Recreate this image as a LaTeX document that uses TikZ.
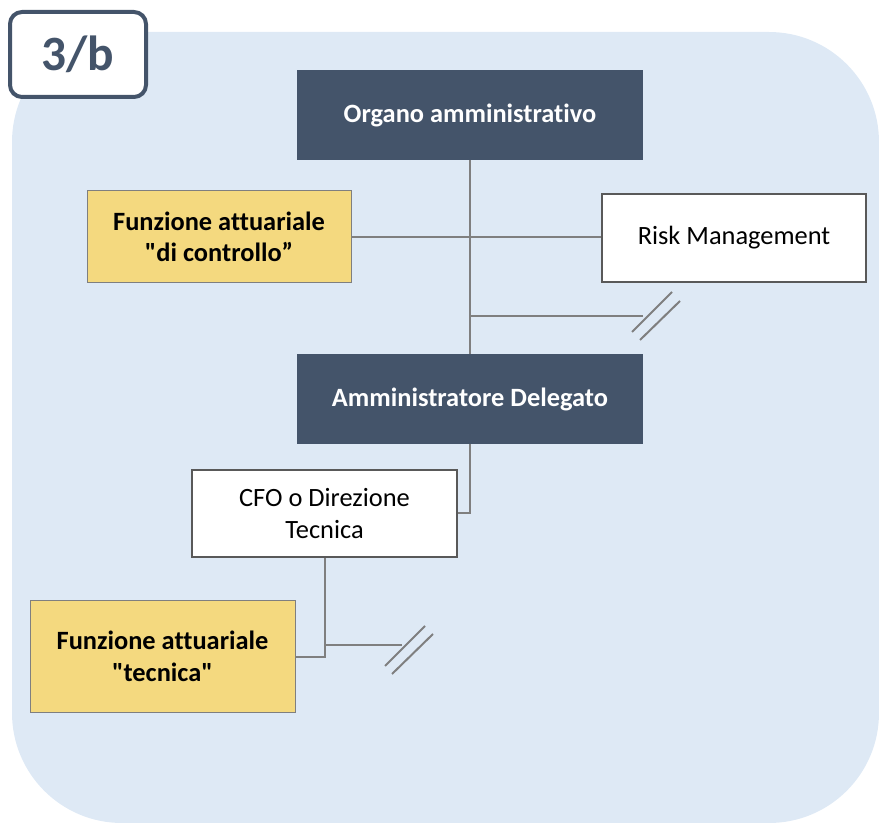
\documentclass[tikz,border=0pt]{standalone}
\usepackage{fontspec}
\setmainfont{Carlito}[Ligatures=CommonOff]
\newfontfamily\boxfont{Carlito}[Ligatures=CommonOff]
\definecolor{bgblue}{HTML}{DEE9F5}
\definecolor{slate}{HTML}{44546A}
\definecolor{gold}{HTML}{F4D97F}
\definecolor{linegray}{HTML}{7F7F7F}
\definecolor{boxgray}{HTML}{595959}
\tikzset{
  boxtext/.style={font=\boxfont\fontsize{19.8}{24}\selectfont, align=center, inner sep=0pt},
  darkbox/.style={boxtext, fill=slate, text=white, font=\boxfont\bfseries\fontsize{19.8}{24}\selectfont,
    minimum width=259.5pt, minimum height=67.5pt},
  goldbox/.style={boxtext, fill=gold, draw=linegray, line width=0.75pt, font=\boxfont\bfseries\fontsize{19.8}{23.5}\selectfont},
  whitebox/.style={boxtext, fill=white, draw=boxgray, line width=1pt},
  link/.style={draw=linegray, line width=1.5pt},
}
\begin{document}
\begin{tikzpicture}[x=0.75pt,y=0.75pt,yscale=-1,xscale=1]
\useasboundingbox (0,0) rectangle (879,823);

%Shape: Rounded Rect [id:background]
\fill[bgblue, rounded corners=82.5pt] (12,32) rectangle (879,823);

% Text Node
\node[draw=slate, line width=3pt, fill=white, rounded corners=9pt, text=slate,
  font=\boxfont\bfseries\fontsize{37}{40}\selectfont, minimum width=102pt, minimum height=63.75pt]
  (lbl) at (78,54.5) {3/b};

% Boxes
\node[darkbox] (org) at (470,115) {Organo amministrativo};
\node[goldbox, minimum width=198pt, minimum height=69pt] (fac) at (219,237) {Funzione attuariale\\"di controllo”};
\node[whitebox, minimum width=198pt, minimum height=66pt] (risk) at (734,238) {Risk Management};
\node[darkbox] (ad) at (470,399) {Amministratore Delegato};
\node[whitebox, minimum width=198.75pt, minimum height=65.25pt] (cfo) at (324.5,513.5) {CFO o Direzione\\Tecnica};
\node[goldbox, minimum width=198.75pt, minimum height=83.25pt] (fat) at (162.5,656.5) {Funzione attuariale\\"tecnica"};

\coordinate (brk1) at (643,316);
\coordinate (brk2) at (402,645);

%Straight Lines
\draw[link] (org.south) -- (ad.north);
\draw[link] (fac.east) -- (fac.east -| risk.west);
\draw[link] (org.south |- brk1) -- (brk1);
\draw[link, shift={(brk1)}] (-11,16) -- (29,-24) (-3,24) -- (37,-15);
\draw[link] (ad.south) |- (cfo.east);
\draw[link] (cfo.south) |- (fat.east);
\draw[link] (cfo.south |- brk2) -- (brk2);
\draw[link, shift={(brk2)}] (-17,21) -- (23,-19) (-10,29) -- (31,-11);

\end{tikzpicture}
\end{document}
